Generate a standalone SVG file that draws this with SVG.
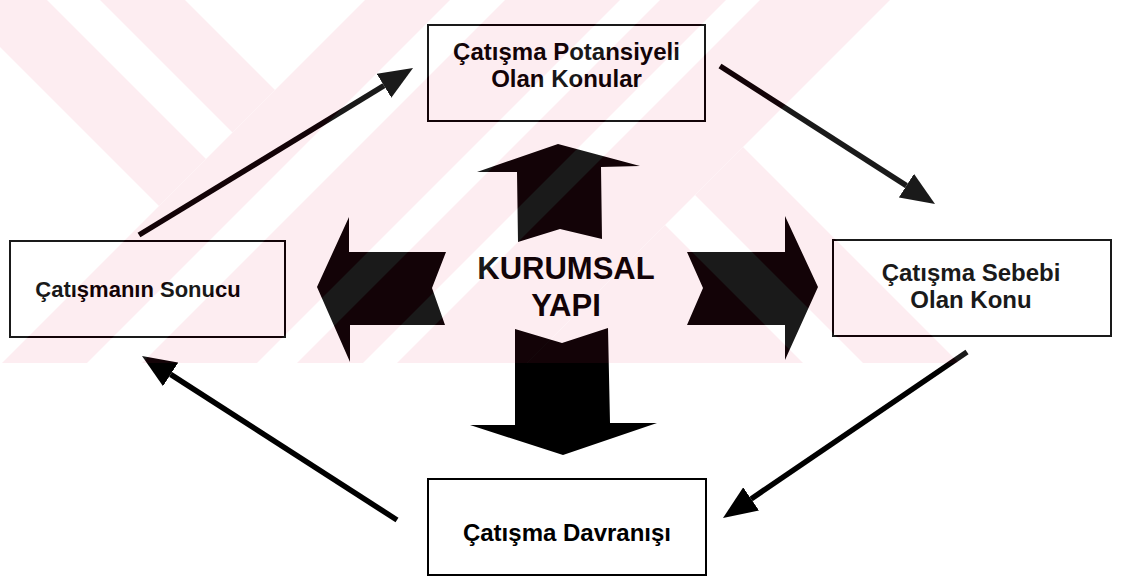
<svg xmlns="http://www.w3.org/2000/svg" width="1121" height="579" viewBox="0 0 1121 579">
  <defs>
    <style>
      .box { fill: none; stroke: #000; stroke-width: 2; }
      .lbl { font-family: "Liberation Sans", Arial, sans-serif; font-weight: bold; font-size: 24px; fill: #000; text-anchor: middle; }
      .title { font-size: 31px; }
      .flow { fill: none; stroke: #000; stroke-width: 5.5; marker-end: url(#head); }
      .block { fill: #000; }
    </style>
    <marker id="head" markerUnits="userSpaceOnUse" markerWidth="34" markerHeight="28" viewBox="0 0 34 28" refX="0" refY="14" orient="auto">
      <path d="M0,0 L34,14 L0,28 z" fill="#000"/>
    </marker>
    <clipPath id="bandClip">
      <rect x="0" y="0" width="1121" height="363"/>
    </clipPath>
    <!-- diagonal tint bands of the background pattern -->
    <g id="tintShapes">
      <polygon points="-47,0 47,0 206,159 159,206"/>
      <polygon points="100,0 185,0 275,90 232.5,132.5"/>
      <polygon points="365,0 450,0 87,363 2,363"/>
      <polygon points="505,0 620,0 257,363 142,363"/>
      <polygon points="660,0 726,0 363,363 297,363"/>
      <polygon points="760,0 890,0 527,363 397,363"/>
      <polygon points="695,195 743,147 959,363 863,363"/>
      <polygon points="665,225 803,363 527,363"/>
    </g>
    <mask id="paleMask" maskUnits="userSpaceOnUse" x="0" y="0" width="1121" height="579">
      <rect x="0" y="0" width="1121" height="363" fill="#fff"/>
      <use href="#tintShapes" fill="#000"/>
    </mask>
  </defs>

  <rect x="0" y="0" width="1121" height="579" fill="#fff"/>

  <!-- central block arrows -->
  <g id="kurumsal-yapi">
    <polygon class="block" points="558,144 640,166 601,167 602,239 560,229 518,242 517,172 477,172"/>
    <polygon class="block" points="317,287 349,217 349,252 446,252 432,288 445,325 350,325 350,362"/>
    <polygon class="block" points="818,287 785,360 785,325 687,325 703,288 687,252 785,252 785,216"/>
    <polygon class="block" points="515,329 562,343 608,328 610,423 657,423 563,455 470,425 515,425"/>
    <text class="lbl title" x="566" y="279">KURUMSAL</text>
    <text class="lbl title" x="566" y="316">YAPI</text>
  </g>

  <g id="potansiyel">
    <rect class="box" x="428" y="25" width="277" height="96"/>
    <text class="lbl" x="566.5" y="60">Çatışma Potansiyeli</text>
    <text class="lbl" x="566.5" y="87">Olan Konular</text>
  </g>

  <g id="sebep">
    <rect class="box" x="833" y="240" width="278" height="96"/>
    <text class="lbl" x="971" y="281">Çatışma Sebebi</text>
    <text class="lbl" x="971" y="308">Olan Konu</text>
  </g>

  <g id="davranis">
    <rect class="box" x="428" y="479" width="278" height="96"/>
    <text class="lbl" x="567" y="541">Çatışma Davranışı</text>
  </g>

  <g id="sonuc">
    <rect class="box" x="10" y="241" width="275" height="96"/>
    <text class="lbl" x="138" y="297" style="font-size:22px">Çatışmanın Sonucu</text>
  </g>

  <!-- cycle connectors -->
  <g id="connectors">
    <path class="flow" d="M139,235 L384,85.7"/>
    <path class="flow" d="M720,66 L906.4,185.6"/>
    <path class="flow" d="M967,352 L751.1,498.9"/>
    <path class="flow" d="M397,520 L170.6,374.4"/>
  </g>

  <!-- faint diagonal background pattern laid over the upper band -->
  <g id="pattern" clip-path="url(#bandClip)">
    <rect x="0" y="0" width="1121" height="363" fill="#fff" opacity="0.1" mask="url(#paleMask)"/>
    <use href="#tintShapes" fill="rgb(233,44,89)" opacity="0.08"/>
  </g>
</svg>
